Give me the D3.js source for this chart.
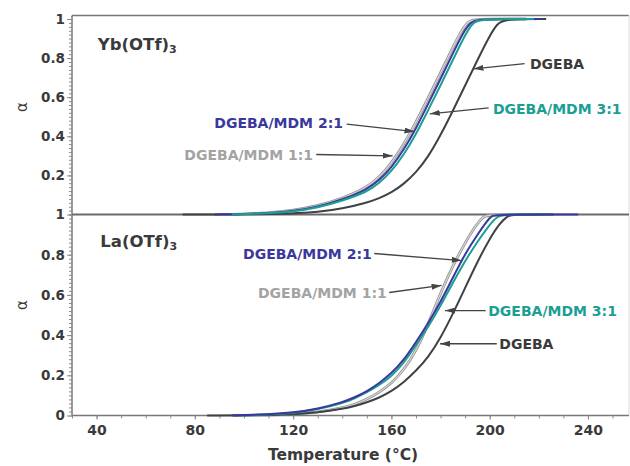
<!DOCTYPE html>
<html lang="en">
<head>
  <meta charset="UTF-8">
  <title>Conversion vs temperature, Yb(OTf)3 and La(OTf)3</title>
  <script src="https://d3js.org/d3.v7.min.js"></script>
  <style>
    body { margin: 0; background: #fff; }
    text { font-family: "DejaVu Sans", Verdana, sans-serif; }
    .tick text { font-weight: bold; fill: #3a3a3a; font-size: 13.5px; }
    .tick line { stroke: #8a8a8a; }
    .note { font-weight: bold; font-size: 14px; }
  </style>
</head>
<body>
  <div id="chart"></div>

  <script>
    // ---- data (temperature in °C, conversion alpha) ----
    const seriesNames = ["DGEBA", "DGEBA/MDM 1:1", "DGEBA/MDM 2:1", "DGEBA/MDM 3:1"];
    const xTickLabels = [40, 80, 120, 160, 200, 240];
    const yTickLabelsTop = [0.2, 0.4, 0.6, 0.8, 1];
    const yTickLabelsBottom = [0, 0.2, 0.4, 0.6, 0.8, 1];

    // Yb(OTf)3 panel
    const ybDGEBA_T = [75, 100, 120, 130, 140, 150, 155, 160, 165, 170, 175, 180, 185, 190, 195, 200, 203, 206, 223];
    const ybDGEBA_a = [0, 0, 0.005, 0.012, 0.03, 0.06, 0.083, 0.112, 0.155, 0.215, 0.295, 0.405, 0.53, 0.66, 0.79, 0.915, 0.975, 1, 1];
    const yb11_T = [96, 110, 120, 130, 140, 150, 155, 160, 165, 170, 175, 180, 185, 188, 191, 193.5, 215];
    const yb11_a = [0, 0.008, 0.02, 0.044, 0.081, 0.137, 0.19, 0.262, 0.357, 0.472, 0.597, 0.725, 0.855, 0.93, 0.985, 1, 1];
    const yb21_T = [88, 110, 120, 130, 140, 150, 155, 160, 165, 170, 175, 180, 185, 189, 192, 195, 221];
    const yb21_a = [0, 0.006, 0.017, 0.039, 0.076, 0.127, 0.175, 0.24, 0.33, 0.44, 0.567, 0.694, 0.824, 0.926, 0.982, 1, 1];
    const yb31_T = [95, 110, 120, 130, 140, 150, 155, 160, 165, 170, 175, 180, 185, 190, 193, 196, 218];
    const yb31_a = [0, 0.005, 0.015, 0.035, 0.07, 0.115, 0.16, 0.22, 0.305, 0.41, 0.535, 0.66, 0.79, 0.92, 0.98, 1, 1];

    // La(OTf)3 panel
    const laDGEBA_T = [85, 110, 120, 130, 140, 145, 150, 155, 160, 165, 170, 175, 180, 185, 190, 195, 200, 204, 207, 209, 226];
    const laDGEBA_a = [0, 0.002, 0.006, 0.015, 0.033, 0.047, 0.065, 0.088, 0.12, 0.165, 0.222, 0.29, 0.385, 0.505, 0.635, 0.765, 0.88, 0.955, 0.99, 1, 1];
    const la11_T = [96, 110, 120, 130, 140, 145, 150, 155, 160, 165, 170, 175, 180, 185, 190, 194, 197, 199, 220];
    const la11_a = [0, 0.002, 0.006, 0.016, 0.037, 0.055, 0.08, 0.115, 0.16, 0.225, 0.32, 0.455, 0.61, 0.745, 0.86, 0.94, 0.985, 1, 1];
    const la21_T = [95, 110, 120, 130, 140, 145, 150, 155, 160, 165, 170, 175, 180, 185, 190, 195, 199, 201, 203, 236];
    const la21_a = [0, 0.006, 0.014, 0.033, 0.065, 0.09, 0.12, 0.16, 0.21, 0.275, 0.365, 0.46, 0.565, 0.685, 0.805, 0.9, 0.97, 0.995, 1, 1];
    const la31_T = [100, 110, 120, 130, 140, 145, 150, 155, 160, 165, 170, 175, 180, 185, 190, 195, 200, 203, 206, 224];
    const la31_a = [0, 0.005, 0.012, 0.03, 0.06, 0.085, 0.115, 0.15, 0.195, 0.26, 0.35, 0.44, 0.545, 0.66, 0.77, 0.865, 0.95, 0.99, 1, 1];

    // ---- layout ----
    const W = 630, H = 466;
    const plotLeft = 72, plotRight = 629;
    const colors = { "DGEBA": "#3e4246", "DGEBA/MDM 1:1": "#a8a8a8", "DGEBA/MDM 2:1": "#3a389c", "DGEBA/MDM 3:1": "#1b9e94" };

    const svg = d3.select("#chart").append("svg")
      .attr("width", W).attr("height", H);

    const x = d3.scaleLinear().domain([30, 256.7]).range([plotLeft, plotRight]);
    const yTop = d3.scaleLinear().domain([0, 1]).range([214.5, 19]);
    const yBot = d3.scaleLinear().domain([0, 1]).range([415.5, 214.5]);

    const zip = (T, a) => T.map((t, i) => ({ t, a: a[i] }));
    const panels = [
      {
        y: yTop, title: "Yb(OTf)", ticks: yTickLabelsTop,
        series: {
          "DGEBA/MDM 1:1": zip(yb11_T, yb11_a),
          "DGEBA": zip(ybDGEBA_T, ybDGEBA_a),
          "DGEBA/MDM 2:1": zip(yb21_T, yb21_a),
          "DGEBA/MDM 3:1": zip(yb31_T, yb31_a)
        },
        titlePos: [40.5, 0.84],
        // [label, text at (T, alpha), anchor, arrow start, arrow tip]
        notes: [
          ["DGEBA", [216.4, 0.772], "start", [214.2, 0.772], [193.4, 0.745]],
          ["DGEBA/MDM 3:1", [201.3, 0.542], "start", [199.6, 0.545], [175.6, 0.515]],
          ["DGEBA/MDM 2:1", [140.3, 0.467], "end", [141.8, 0.462], [169.4, 0.424]],
          ["DGEBA/MDM 1:1", [128.1, 0.307], "end", [129.4, 0.307], [160.5, 0.3]]
        ]
      },
      {
        y: yBot, title: "La(OTf)", ticks: yTickLabelsBottom,
        series: {
          "DGEBA/MDM 1:1": zip(la11_T, la11_a),
          "DGEBA": zip(laDGEBA_T, laDGEBA_a),
          "DGEBA/MDM 3:1": zip(la31_T, la31_a),
          "DGEBA/MDM 2:1": zip(la21_T, la21_a)
        },
        titlePos: [41.5, 0.84],
        notes: [
          ["DGEBA/MDM 2:1", [152, 0.804], "end", [153, 0.806], [188.6, 0.771]],
          ["DGEBA/MDM 1:1", [158.1, 0.608], "end", [159.1, 0.612], [180.4, 0.647]],
          ["DGEBA/MDM 3:1", [199.4, 0.522], "start", [198.4, 0.522], [181.8, 0.522]],
          ["DGEBA", [203.9, 0.357], "start", [202.9, 0.357], [179.8, 0.357]]
        ]
      }
    ];

    // arrow head
    svg.append("defs").append("marker")
      .attr("id", "arrow")
      .attr("viewBox", "0 0 10 6")
      .attr("refX", 10).attr("refY", 3)
      .attr("markerWidth", 10).attr("markerHeight", 6)
      .attr("markerUnits", "userSpaceOnUse")
      .attr("orient", "auto")
      .append("path")
      .attr("d", "M0,0 L10,3 L0,6 Z")
      .attr("fill", "#444");

    // frame
    const frame = svg.append("g").attr("fill", "none");
    frame.append("line").attr("x1", plotLeft).attr("x2", plotRight)
      .attr("y1", yTop(1.018)).attr("y2", yTop(1.018)).attr("stroke", "#777").attr("stroke-width", 1.5);
    frame.append("line").attr("x1", plotRight).attr("x2", plotRight)
      .attr("y1", yTop(1.018)).attr("y2", yBot(0)).attr("stroke", "#ddd").attr("stroke-width", 1);
    frame.append("line").attr("x1", plotLeft).attr("x2", plotRight)
      .attr("y1", yBot(1)).attr("y2", yBot(1)).attr("stroke", "#6a6a6a").attr("stroke-width", 2);
    frame.append("line").attr("x1", plotLeft).attr("x2", plotRight)
      .attr("y1", yBot(0)).attr("y2", yBot(0)).attr("stroke", "#777").attr("stroke-width", 1.5);
    frame.append("line").attr("x1", plotLeft).attr("x2", plotLeft)
      .attr("y1", yTop(1.018)).attr("y2", yBot(0)).attr("stroke", "#777").attr("stroke-width", 1.5);

    // y axes
    panels.forEach(p => {
      const minor = d3.range(0, 1.001, 0.02).filter(v => p.y(v) > yTop(1.018) - 0.5);
      svg.append("g").attr("transform", `translate(${plotLeft},0)`)
        .call(d3.axisLeft(p.y).tickValues(minor).tickSize(3).tickFormat(""))
        .call(g => g.select(".domain").remove());
      svg.append("g").attr("transform", `translate(${plotLeft},0)`)
        .call(d3.axisLeft(p.y).tickValues(p.ticks).tickSize(5).tickPadding(2).tickFormat(d3.format("~g")))
        .call(g => g.select(".domain").remove());
    });

    // x axis
    svg.append("g").attr("transform", `translate(0,${yBot(0)})`)
      .call(d3.axisBottom(x).tickValues(d3.range(30, 256, 10)).tickSize(3).tickFormat(""))
      .call(g => g.select(".domain").remove());
    svg.append("g").attr("transform", `translate(0,${yBot(0)})`)
      .call(d3.axisBottom(x).tickValues(xTickLabels).tickSize(4).tickPadding(6))
      .call(g => g.select(".domain").remove())
      .selectAll("text").style("font-size", "14px");

    // curves
    panels.forEach(p => {
      const line = d3.line().x(d => x(d.t)).y(d => p.y(d.a)).curve(d3.curveBasis);
      Object.entries(p.series).forEach(([name, pts]) => {
        if (name === "DGEBA/MDM 1:1") {
          svg.append("path").datum(pts).attr("d", line)
            .attr("fill", "none").attr("stroke", "#949494").attr("stroke-width", 2.8);
          svg.append("path").datum(pts).attr("d", line)
            .attr("fill", "none").attr("stroke", "#d6d6d6").attr("stroke-width", 1.2);
        } else {
          svg.append("path").datum(pts).attr("d", line)
            .attr("fill", "none").attr("stroke", colors[name]).attr("stroke-width", 2);
        }
      });

      // panel title
      const title = svg.append("text")
        .attr("x", x(p.titlePos[0])).attr("y", p.y(p.titlePos[1]))
        .attr("font-weight", "bold").attr("font-size", "16.5px").attr("fill", "#3a3a3a")
        .text(p.title);
      title.append("tspan").attr("font-size", "11px").attr("dy", "3").text("3");

      // annotations
      p.notes.forEach(([label, pos, anchor, from, tip]) => {
        svg.append("line")
          .attr("x1", x(from[0])).attr("y1", p.y(from[1]))
          .attr("x2", x(tip[0])).attr("y2", p.y(tip[1]))
          .attr("stroke", "#444").attr("stroke-width", 1.3)
          .attr("marker-end", "url(#arrow)");
        svg.append("text").attr("class", "note")
          .attr("x", x(pos[0])).attr("y", p.y(pos[1])).attr("dy", "0.36em")
          .attr("text-anchor", anchor)
          .attr("fill", label === "DGEBA" ? "#3a3a3a" : colors[label] === "#a8a8a8" ? "#a3a3a3" : colors[label])
          .text(label);
      });
    });

    // axis titles
    [yTop, yBot].forEach(s => {
      svg.append("text")
        .attr("transform", `translate(27,${s(0.55)}) rotate(-90)`)
        .attr("text-anchor", "middle").attr("font-size", "15px").attr("fill", "#3a3a3a")
        .text("α");
    });
    svg.append("text")
      .attr("x", (plotLeft + plotRight) / 2 - 7.5).attr("y", 460)
      .attr("text-anchor", "middle").attr("font-weight", "bold").attr("font-size", "15.5px").attr("fill", "#3a3a3a")
      .text("Temperature (°C)");
  </script>
</body>
</html>
